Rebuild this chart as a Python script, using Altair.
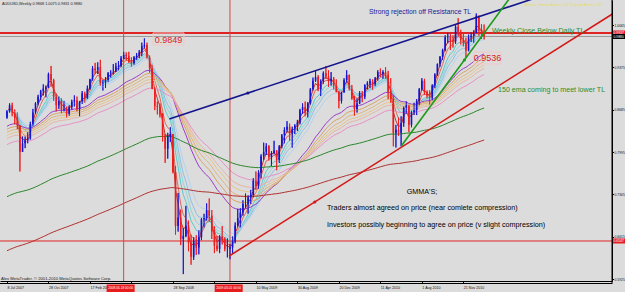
import json
import altair as alt
import pandas as pd

# ---------------- data (weekly AUDUSD) ----------------
first_open = 0.8560
closes = [0.8660, 0.8760, 0.8640, 0.8550, 0.8430, 0.8000, 0.8140, 0.8190, 0.8220, 0.8450,
          0.8640, 0.8790, 0.8900, 0.8990, 0.9030, 0.9050, 0.9270, 0.9170, 0.8900, 0.8760,
          0.8830, 0.8690, 0.8700, 0.8620, 0.8730, 0.8820, 0.8840, 0.8700, 0.8820, 0.8950,
          0.8880, 0.9030, 0.9180, 0.9360, 0.9330, 0.9380, 0.9120, 0.9130, 0.9170, 0.9280,
          0.9290, 0.9300, 0.9390, 0.9400, 0.9520, 0.9580, 0.9560, 0.9470, 0.9440, 0.9540,
          0.9570, 0.9620, 0.9720, 0.9740, 0.9540, 0.9360, 0.9030, 0.8750, 0.8730, 0.8610,
          0.8270, 0.8050, 0.8250, 0.8290, 0.7670, 0.6790, 0.6930, 0.6580, 0.6630, 0.6800,
          0.6520, 0.6290, 0.6550, 0.6440, 0.6610, 0.6900, 0.6920, 0.7050, 0.6960, 0.6700,
          0.6470, 0.6420, 0.6620, 0.6580, 0.6420, 0.6420, 0.6440, 0.6540, 0.6800, 0.6920,
          0.7010, 0.7150, 0.7150, 0.7260, 0.7300, 0.7530, 0.7440, 0.7660, 0.7930, 0.8000,
          0.8090, 0.7910, 0.7980, 0.8020, 0.7870, 0.8090, 0.8270, 0.8360, 0.8410, 0.8300,
          0.8370, 0.8430, 0.8480, 0.8680, 0.8730, 0.8650, 0.8790, 0.9020, 0.9160, 0.9220,
          0.9020, 0.9150, 0.9280, 0.9230, 0.9150, 0.9190, 0.9080, 0.8980, 0.8830, 0.8970,
          0.9170, 0.9250, 0.9030, 0.8870, 0.8700, 0.8790, 0.8960, 0.8900, 0.9090, 0.9120,
          0.9150, 0.9100, 0.9200, 0.9300, 0.9270, 0.9300, 0.9260, 0.8980, 0.8860, 0.8310,
          0.8360, 0.8310, 0.8470, 0.8720, 0.8760, 0.8440, 0.8640, 0.8680, 0.8830, 0.9020,
          0.9160, 0.8970, 0.8920, 0.8880, 0.9080, 0.9260, 0.9430, 0.9550, 0.9660, 0.9870,
          0.9880, 0.9820, 0.9800, 1.0040, 0.9940, 0.9830, 0.9780, 0.9650, 0.9870, 0.9890,
          0.9940, 1.0220, 0.9990, 0.9950, 0.9880]
highs = [0.8680, 0.8790, 0.8800, 0.8690, 0.8640, 0.8430, 0.8250, 0.8250, 0.8320, 0.8490,
         0.8700, 0.8810, 0.8930, 0.9010, 0.9100, 0.9080, 0.9290, 0.9400, 0.9190, 0.8950,
         0.8900, 0.8870, 0.8830, 0.8730, 0.8760, 0.8850, 0.8920, 0.8900, 0.8830, 0.8990,
         0.8980, 0.9080, 0.9190, 0.9400, 0.9450, 0.9460, 0.9500, 0.9170, 0.9220, 0.9300,
         0.9330, 0.9430, 0.9450, 0.9480, 0.9560, 0.9630, 0.9620, 0.9630, 0.9540, 0.9560,
         0.9610, 0.9660, 0.9780, 0.9849, 0.9780, 0.9570, 0.9420, 0.9050, 0.8820, 0.8790,
         0.8630, 0.8290, 0.8310, 0.8400, 0.8290, 0.7770, 0.7330, 0.7060, 0.6760, 0.7120,
         0.6880, 0.6650, 0.6610, 0.6640, 0.6720, 0.6920, 0.6990, 0.7160, 0.7240, 0.7050,
         0.6790, 0.6630, 0.6640, 0.6790, 0.6610, 0.6590, 0.6500, 0.6620, 0.6850, 0.7070,
         0.7080, 0.7210, 0.7320, 0.7290, 0.7380, 0.7570, 0.7680, 0.7700, 0.7960, 0.8150,
         0.8140, 0.8110, 0.8010, 0.8180, 0.8030, 0.8110, 0.8290, 0.8400, 0.8500, 0.8460,
         0.8410, 0.8450, 0.8520, 0.8700, 0.8790, 0.8820, 0.8810, 0.9040, 0.9210, 0.9330,
         0.9250, 0.9180, 0.9310, 0.9400, 0.9330, 0.9300, 0.9220, 0.9180, 0.8990, 0.8980,
         0.9200, 0.9330, 0.9260, 0.9090, 0.8910, 0.8870, 0.8990, 0.8990, 0.9100, 0.9150,
         0.9190, 0.9180, 0.9220, 0.9330, 0.9360, 0.9330, 0.9380, 0.9320, 0.9200, 0.8930,
         0.8440, 0.8560, 0.8580, 0.8740, 0.8820, 0.8740, 0.8670, 0.8800, 0.8860, 0.9040,
         0.9200, 0.9190, 0.9000, 0.9000, 0.9100, 0.9280, 0.9440, 0.9560, 0.9680, 0.9900,
         0.9940, 0.9920, 0.9900, 1.0080, 1.0180, 0.9990, 0.9920, 0.9860, 0.9910, 0.9950,
         0.9980, 1.0255, 1.0220, 1.0080, 1.0075]
lows = [0.8540, 0.8640, 0.8580, 0.8450, 0.8370, 0.7680, 0.8000, 0.8060, 0.8140, 0.8200,
        0.8420, 0.8620, 0.8760, 0.8840, 0.8920, 0.8890, 0.9040, 0.9070, 0.8830, 0.8660,
        0.8700, 0.8630, 0.8660, 0.8560, 0.8590, 0.8690, 0.8740, 0.8660, 0.8580, 0.8780,
        0.8800, 0.8860, 0.9010, 0.9160, 0.9270, 0.9270, 0.9080, 0.9000, 0.9040, 0.9140,
        0.9210, 0.9260, 0.9330, 0.9330, 0.9380, 0.9510, 0.9490, 0.9450, 0.9390, 0.9420,
        0.9500, 0.9530, 0.9560, 0.9690, 0.9520, 0.9290, 0.9020, 0.8680, 0.8610, 0.8560,
        0.8170, 0.7820, 0.7890, 0.8160, 0.7650, 0.6650, 0.6700, 0.6480, 0.6008, 0.6610,
        0.6380, 0.6160, 0.6240, 0.6320, 0.6330, 0.6560, 0.6770, 0.6880, 0.6860, 0.6580,
        0.6350, 0.6380, 0.6350, 0.6490, 0.6380, 0.6280, 0.6250, 0.6350, 0.6510, 0.6780,
        0.6770, 0.6960, 0.7080, 0.6990, 0.7150, 0.7260, 0.7380, 0.7400, 0.7570, 0.7870,
        0.7950, 0.7860, 0.7770, 0.7960, 0.7700, 0.7820, 0.8060, 0.8140, 0.8320, 0.8180,
        0.8070, 0.8290, 0.8340, 0.8450, 0.8620, 0.8580, 0.8560, 0.8770, 0.9000, 0.9140,
        0.8990, 0.8910, 0.9110, 0.9190, 0.9060, 0.9080, 0.9020, 0.8970, 0.8710, 0.8790,
        0.8960, 0.9130, 0.9000, 0.8850, 0.8590, 0.8640, 0.8780, 0.8810, 0.8860, 0.9020,
        0.9040, 0.9010, 0.9070, 0.9160, 0.9220, 0.9190, 0.9190, 0.8860, 0.8800, 0.8090,
        0.8070, 0.8260, 0.8090, 0.8410, 0.8620, 0.8320, 0.8400, 0.8600, 0.8600, 0.8760,
        0.9000, 0.8930, 0.8870, 0.8770, 0.8840, 0.9040, 0.9240, 0.9390, 0.9500, 0.9640,
        0.9770, 0.9660, 0.9700, 0.9760, 0.9880, 0.9750, 0.9720, 0.9540, 0.9640, 0.9790,
        0.9780, 0.9940, 0.9890, 0.9840, 0.9831]

date_labels = ["8 Jul 2007", "2 Sep 2007", "28 Oct 2007", "23 Dec 2007", "17 Feb 2008",
               "", "", "3 Aug 2008", "28 Sep 2008", "23 Nov 2008",
               "", "", "10 May 2009", "5 Jul 2009", "30 Aug 2009",
               "25 Oct 2009", "20 Dec 2009", "14 Feb 2010", "11 Apr 2010", "6 Jun 2010",
               "1 Aug 2010", "26 Sep 2010", "21 Nov 2010", "16 Jan 2011"]
price_ticks = [1.0410, 1.0238, 1.0065, 0.9893, 0.9720, 0.9548, 0.9375, 0.9203, 0.9030,
               0.8858, 0.8685, 0.8513, 0.8340, 0.8168, 0.7995, 0.7823, 0.7650, 0.7478,
               0.7305, 0.7133, 0.6960, 0.6788, 0.6615, 0.6443, 0.6270, 0.6098, 0.5925]

# moving averages (GMMA short / long, 150 EMA, slow EMA) with start values read at the left edge
gmma_short = [3, 5, 8, 10, 12, 15]
gmma_long = [30, 35, 40, 45, 50, 60]
long_seeds = [0.840, 0.835, 0.830, 0.825, 0.820, 0.810]
ema150_seed = 0.725
ema_slow_period = 250
ema_slow_seed = 0.637

# user objects
hlines = [0.9937, 0.6547]          # horizontal lines
bid_price = 0.9880
vlines_i = [45, 86]                # vertical lines (week index)
vline_text = ["2008.05.18 00:00", "2009.03.01 00:00"]
tl_blue = [(62.6, 0.8536), (92.9, 0.8959)]
tl_red = [(85.7, 0.6302), (118.7, 0.7183)]
tl_green = [(152.0, 0.8090), (176.4, 0.9497)]

# ---------------- build tables ----------------
UP, DOWN = "#1414d0", "#ee1c1c"
n = len(closes)
opens = [first_open] + closes[:-1]
candles = pd.DataFrame({"i": list(range(n)), "o": opens, "h": highs, "l": lows, "c": closes})
candles["col"] = [UP if c >= o else DOWN for o, c in zip(opens, closes)]


def ema(vals, period, seed):
    a = 2.0 / (period + 1)
    e = seed
    out = []
    for v in vals:
        e = a * v + (1 - a) * e
        out.append(e)
    return out


specs = []
for p in gmma_short:
    specs.append((f"ema{p}", p, closes[0]))
for p, sd in zip(gmma_long, long_seeds):
    specs.append((f"ema{p}", p, sd))
specs.append(("ema150", 150, ema150_seed))
specs.append(("emaslow", ema_slow_period, ema_slow_seed))
ma_colors = ["#c0302a", "#d86a5a", "#5ec8c8", "#8ad8d8", "#8fbfe8", "#b0d4f0",
             "#9a3cc8", "#d8a264", "#e0b478", "#e8c48a", "#e8b4a4", "#e890c4",
             "#2a862a", "#b03030"]
ma_rows = []
for (nm, p, sd), col in zip(specs, ma_colors):
    for i, v in enumerate(ema(closes, p, sd)):
        ma_rows.append({"i": i, "v": v, "s": nm, "col": col})
ma = pd.DataFrame(ma_rows)


def ray(pts, i_end=240):
    (i0, p0), (i1, p1) = pts
    s = (p1 - p0) / (i1 - i0)
    return pd.DataFrame({"i": [i0, i_end], "p": [p0, p0 + s * (i_end - i0)]})


XD = [-0.76, 231.4]
YD = [0.5895, 1.0475]
FONT = "Liberation Sans"
xs = alt.Scale(domain=XD, nice=False, zero=False)
ys = alt.Scale(domain=YD, nice=False, zero=False)

xaxis = alt.Axis(values=list(range(0, n, 8)),
                 labelExpr=json.dumps(date_labels) + "[round(datum.value/8)]",
                 labelAlign="left", labelFontSize=3.6, labelColor="#111", labelFont=FONT,
                 tickSize=2, tickColor="#000", domainColor="#000", labelPadding=2.5,
                 grid=False, title=None, labelOverlap=False)
yaxis = alt.Axis(orient="right", values=price_ticks, format=".4f", labelFontSize=3.4,
                 labelColor="#111", labelFont=FONT, tickSize=1.5, tickColor="#000",
                 domainColor="#000", labelPadding=0.5, grid=False, title=None,
                 labelOverlap=False)

base_c = alt.Chart(candles)
wicks = base_c.mark_rule(strokeWidth=0.9).encode(
    x=alt.X("i:Q", scale=xs, axis=xaxis),
    y=alt.Y("l:Q", scale=ys, axis=yaxis), y2="h:Q",
    color=alt.Color("col:N", scale=None),
)
bodies = base_c.mark_bar(size=1.6).encode(
    x=alt.X("i:Q", scale=xs), y=alt.Y("o:Q", scale=ys), y2="c:Q",
    color=alt.Color("col:N", scale=None),
)
ma_lines = alt.Chart(ma).mark_line(strokeWidth=1, clip=True).encode(
    x=alt.X("i:Q", scale=xs), y=alt.Y("v:Q", scale=ys),
    color=alt.Color("col:N", scale=None), detail="s:N",
)

hl = pd.DataFrame({"p": hlines, "w": [2.0, 1.0]})
hrule = alt.Chart(hl).mark_rule(color="#e02424").encode(
    y=alt.Y("p:Q", scale=ys), strokeWidth=alt.StrokeWidth("w:Q", scale=None))
bid = alt.Chart(pd.DataFrame({"p": [bid_price]})).mark_rule(color="#9a9a9a", strokeWidth=1).encode(
    y=alt.Y("p:Q", scale=ys))
vl = pd.DataFrame({"i": vlines_i})
vrule = alt.Chart(vl).mark_rule(color="#d04848", strokeWidth=1).encode(x=alt.X("i:Q", scale=xs))


def tl_layer(pts, color):
    d = ray(pts)
    line = alt.Chart(d).mark_line(color=color, strokeWidth=1.6, clip=True).encode(
        x=alt.X("i:Q", scale=xs), y=alt.Y("p:Q", scale=ys))
    dot = alt.Chart(pd.DataFrame({"i": [pts[1][0]], "p": [pts[1][1]]})).mark_point(
        filled=True, size=10, color=color, opacity=1).encode(
        x=alt.X("i:Q", scale=xs), y=alt.Y("p:Q", scale=ys))
    return line + dot


blue_tl = tl_layer(tl_blue, "#14148c")
red_tl = tl_layer(tl_red, "#d41818")
green_tl = tl_layer(tl_green, "#1c9a1c")


def txt(s, x, y, color="#000", size=7.2, align="left"):
    return alt.Chart(pd.DataFrame({"t": [s]})).mark_text(
        align=align, baseline="middle", font=FONT, fontSize=size, color=color).encode(
        text="t:N", x=alt.value(x), y=alt.value(y))


def box(x1, x2, y1, y2, stroke=None, fill=None):
    kw = {"fill": fill if fill else "transparent"}
    if stroke:
        kw["stroke"] = stroke
        kw["strokeWidth"] = 1
    return alt.Chart(pd.DataFrame({"a": [0]})).mark_rect(**kw).encode(
        x=alt.value(x1), x2=alt.value(x2), y=alt.value(y1), y2=alt.value(y2))


texts = [
    txt("AUDUSD,Weekly  0.9868 1.0075 0.9831 0.9880", 2, 4, "#222", 3.8),
    txt("Alerts:  Email Alerts Off   Popup Alerts Off", 525, 5, "#e4dc64", 4.4),
    box(153, 184, 33, 45, stroke="#f2c6c6"),
    txt("0.9849", 168.5, 39.5, "#e02020", 9, "center"),
    box(474, 501, 52, 64, stroke="#f2c6c6"),
    txt("0.9536", 487.5, 58, "#e02020", 9, "center"),
    txt("Strong rejection off Resistance TL", 369, 12, "#1a1a9a", 6.8),
    txt("Weekly Close Below Daily TL", 492, 31, "#2a8c2a", 7.1),
    txt("150 ema coming to meet lower TL", 498, 90, "#2a8c2a", 7.1),
    txt("GMMA'S;", 422, 192, "#000", 7.2, "center"),
    txt("Traders almost agreed on price (near comlete compression)", 327, 208, "#000", 7.2),
    txt("Investors possibly beginning to agree on price   (v slight compression)", 327, 225, "#000", 7.2),
    txt("Alex MetaTrader, \u00a9 2001-2010 MetaQuotes Software Corp.", 1, 279, "#222", 4.2),
]

deco = []
for ii, t in zip(vlines_i, vline_text):
    xp = 2.0 + 612 / (XD[1] - XD[0]) * ii
    deco.append(box(xp - 14, xp + 14, 284.5, 292, fill="#e81c1c"))
    deco.append(txt(t, xp, 288.3, "#fff", 3.2, "center"))


def ypix(p):
    return (YD[1] - p) / (YD[1] - YD[0]) * 281


for p, col in [(hlines[0], "#e81c1c"), (bid_price, "#000"), (hlines[1], "#e81c1c")]:
    yp = ypix(p)
    deco.append(box(613, 625, yp - 2.5, yp + 2.5, fill=col))
    deco.append(txt(f"{p:.4f}", 613.5, yp, "#fff", 3.4))

frame = alt.Chart(pd.DataFrame({"a": [0]})).mark_rule(color="#000", strokeWidth=1).encode(
    x=alt.value(0), x2=alt.value(612), y=alt.value(283.5))
vframe = alt.Chart(pd.DataFrame({"a": [0]})).mark_rule(color="#000", strokeWidth=1).encode(
    x=alt.value(612), y=alt.value(0), y2=alt.value(284))

chart = alt.layer(
    wicks, ma_lines, hrule, bid, vrule, wicks, bodies, blue_tl, red_tl, green_tl,
    frame, vframe, *texts, *deco
).properties(
    width=612, height=281, background="#dcdcdc",
    autosize=alt.AutoSizeParams(type="none"),
    padding={"left": 0, "top": 0, "right": 13, "bottom": 11},
).configure_view(strokeWidth=0, fill="#dcdcdc")

chart.save("out.html", embed_options={"renderer": "svg", "actions": False})
